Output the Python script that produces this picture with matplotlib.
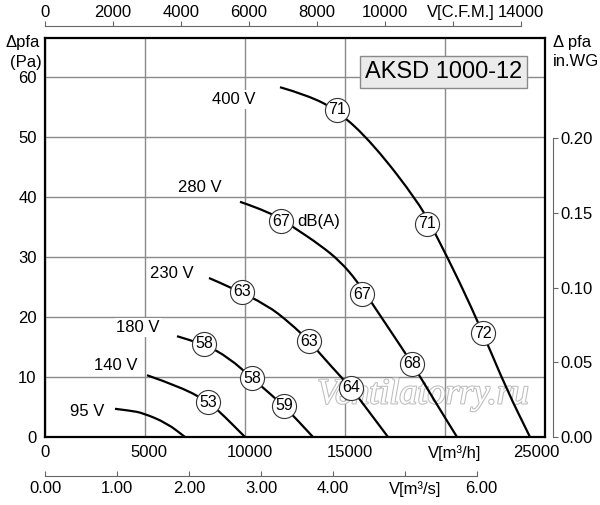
import matplotlib
matplotlib.use('Agg')
import matplotlib.pyplot as plt
import matplotlib.patheffects as pe
import matplotlib.transforms as mtransforms
from matplotlib.path import Path
from matplotlib.patches import PathPatch

plt.rcParams['font.family'] = ['Liberation Sans', 'DejaVu Sans']

#%% Data

# fan curves: airflow [m3/h], static pressure [Pa]
c400_x = [11750, 13100, 14600, 16400, 18700, 19550, 20750, 21900, 23100, 24250]
c400_y = [58.3, 57.0, 54.5, 48.9, 39.0, 33.7, 25.7, 17.3, 7.8, 0]
c280_x = [9750, 11250, 12500, 13750, 14750, 15600, 16350, 17250, 18350, 19450, 20600]
c280_y = [39.2, 37.5, 34.8, 32.0, 29.3, 26.0, 22.3, 17.8, 12.3, 6.2, 0]
c230_x = [8200, 9250, 11100, 12250, 13200, 14250, 15300, 16250, 17150]
c230_y = [26.5, 25.0, 22.0, 19.0, 16.0, 12.0, 8.2, 4.0, 0]
c180_x = [6600, 7950, 9200, 10350, 11950, 13400]
c180_y = [16.8, 15.5, 13.2, 9.8, 5.2, 0]
c140_x = [5100, 6900, 8150, 8650, 10000]
c140_y = [10.3, 8.2, 5.8, 4.5, 0]
c95_x = [3500, 4250, 4900, 6100, 7000]
c95_y = [4.7, 4.4, 4.0, 2.3, 0]

curves = [(c400_x, c400_y), (c280_x, c280_y), (c230_x, c230_y),
          (c180_x, c180_y), (c140_x, c140_y), (c95_x, c95_y)]

volt_labels = ['400 V', '280 V', '230 V', '180 V', '140 V', '95 V']
volt_x = [10550, 8850, 7450, 5750, 4600, 2950]
volt_y = [56.3, 41.5, 27.3, 18.2, 12.0, 4.3]

# sound level marks dB(A)
db_x = [14600, 19100, 21900, 11800, 15850, 18350, 9850, 13200, 15300, 7950, 10350, 11950, 8150]
db_y = [54.5, 35.5, 17.3, 36.0, 23.8, 12.2, 24.2, 16.0, 8.2, 15.5, 9.8, 5.2, 5.8]
db_val = ['71', '71', '72', '67', '67', '68', '63', '63', '64', '58', '58', '59', '53']

# axes ticks
x_ticks = [0, 5000, 10000, 15000, 20000, 25000]
x_labels = ['0', '5000', '10000', '15000', 'V[m³/h]', '25000']
y_ticks = [0, 10, 20, 30, 40, 50, 60]
cfm_ticks = [0, 2000, 4000, 6000, 8000, 10000, 12000, 14000]
cfm_labels = ['0', '2000', '4000', '6000', '8000', '10000', 'V[C.F.M.]', '14000']
m3s_ticks = [0, 1, 2, 3, 4, 5, 6]
m3s_labels = ['0.00', '1.00', '2.00', '3.00', '4.00', 'V[m³/s]', '6.00']
wg_ticks = [0, 0.05, 0.10, 0.15, 0.20]
wg_labels = ['0.00', '0.05', '0.10', '0.15', '0.20']

X_MAX = 25000
Y_MAX = 66.5
M3H_PER_CFM = 1.699
PA_PER_INWG = 249.09


def smooth_path(xs, ys):
    # quadratic bezier through the midpoints, read points act as control points
    verts = [(xs[0], ys[0])]
    codes = [Path.MOVETO]
    for i in range(1, len(xs) - 1):
        verts += [(xs[i], ys[i]), ((xs[i] + xs[i+1]) / 2, (ys[i] + ys[i+1]) / 2)]
        codes += [Path.CURVE3, Path.CURVE3]
    verts.append((xs[-1], ys[-1]))
    codes.append(Path.LINETO)
    return Path(verts, codes)


def nudge(axis_obj, shifts):
    # shift some tick labels sideways (pixels), like in the original sheet
    for lab in axis_obj.get_ticklabels():
        dx = shifts.get(lab.get_text(), 0)
        if dx:
            off = mtransforms.ScaledTranslation(dx / 100, 0, fig.dpi_scale_trans)
            lab.set_transform(lab.get_transform() + off)


#%% Figure

fig = plt.figure(figsize=(6, 5.05), dpi=100)
L, B, W, H = 45/600, 1-437/505, 500/600, 399/505
ax = fig.add_axes([L, B, W, H])
ax.set_xlim(0, X_MAX)
ax.set_ylim(0, Y_MAX)
ax.set_axisbelow(True)
ax.grid(True, color='#8a8a8a', lw=1.0)
ax.set_xticks(x_ticks)
ax.set_xticklabels(x_labels)
ax.set_yticks(y_ticks)
ax.tick_params(length=0, labelsize=12, pad=6)
for s in ax.spines.values():
    s.set_linewidth(1.6)
    s.set_color('black')
nudge(ax.xaxis, {'V[m³/h]': 10, '25000': -9, '5000': 4, '10000': 5, '15000': 5})

# watermark (white letters with a light grey outline)
ax.text(18900, 5.6, 'Ventilatorry.ru', fontsize=26, family='Liberation Serif',
        style='italic', color='white', ha='center', va='baseline', zorder=1.5,
        path_effects=[pe.withStroke(linewidth=1.5, foreground='#bdbdbd')])

for cx, cy in curves:
    ax.add_patch(PathPatch(smooth_path(cx, cy), facecolor='none', edgecolor='black',
                           lw=1.6, zorder=3, capstyle='butt'))

for lab, lx, ly in zip(volt_labels, volt_x, volt_y):
    box = None if lab == '280 V' else dict(facecolor='white', edgecolor='none', pad=1.5)
    ax.text(lx, ly, lab, fontsize=12, ha='right', va='center', zorder=2.5, bbox=box)

ax.scatter(db_x, db_y, s=300, facecolor='white', edgecolor='#333333',
           linewidths=0.8, zorder=4)
for v, dx, dy in zip(db_val, db_x, db_y):
    ax.text(dx, dy, v, fontsize=11.5, ha='center', va='center', zorder=5)
ax.text(12600, 35.9, 'dB(A)', fontsize=12, ha='left', va='center', zorder=5)

ax.text(19925, 60.8, 'AKSD 1000-12', fontsize=17, ha='center', va='center', zorder=6,
        bbox=dict(boxstyle='square,pad=0.22', facecolor='#ebebeb', edgecolor='#8a8a8a', lw=1))

# top axis: C.F.M.
axt = fig.add_axes([L, 1-26/505, W, 0.0001])
axt.patch.set_alpha(0)
axt.set_xlim(0, X_MAX / M3H_PER_CFM)
for k in ['bottom', 'left', 'right']:
    axt.spines[k].set_visible(False)
axt.spines['top'].set_bounds(0, 14000)
axt.spines['top'].set_color('#666666')
axt.set_yticks([])
axt.set_xticks(cfm_ticks)
axt.set_xticklabels(cfm_labels)
axt.tick_params(axis='x', top=True, bottom=False, labeltop=True, labelbottom=False,
                direction='out', length=3.5, pad=0.5, labelsize=12, color='#666666')
nudge(axt.xaxis, {'V[C.F.M.]': 8})

# bottom axis: m3/s
axb = fig.add_axes([L, 1-476/505, W, 0.0001])
axb.patch.set_alpha(0)
axb.set_xlim(0, X_MAX / 3600)
for k in ['top', 'left', 'right']:
    axb.spines[k].set_visible(False)
axb.spines['bottom'].set_bounds(0, 6)
axb.spines['bottom'].set_color('#666666')
axb.set_yticks([])
axb.set_xticks(m3s_ticks)
axb.set_xticklabels(m3s_labels)
axb.tick_params(axis='x', direction='in', length=3.5, pad=3.5, labelsize=12, color='#666666')
nudge(axb.xaxis, {'V[m³/s]': 10, '6.00': 4})

# right axis: in.WG
axr = fig.add_axes([553/600, B, 0.0001, H])
axr.patch.set_alpha(0)
axr.set_ylim(0, Y_MAX / PA_PER_INWG)
for k in ['top', 'bottom', 'left']:
    axr.spines[k].set_visible(False)
axr.spines['right'].set_bounds(0, 0.20)
axr.spines['right'].set_color('#666666')
axr.set_xticks([])
axr.yaxis.tick_right()
axr.set_yticks(wg_ticks)
axr.set_yticklabels(wg_labels)
axr.tick_params(axis='y', direction='out', length=3.5, pad=2, labelsize=12, color='#666666')

# axis headers
fig.text(5/600, 1-42/505, 'Δpfa', fontsize=12, ha='left', va='center')
fig.text(10/600, 1-62/505, '(Pa)', fontsize=12, ha='left', va='center')
fig.text(553/600, 1-42/505, 'Δ pfa', fontsize=12, ha='left', va='center')
fig.text(553/600, 1-62/505, 'in.WG', fontsize=12, ha='left', va='center')

fig.savefig('out.png', dpi=100)
